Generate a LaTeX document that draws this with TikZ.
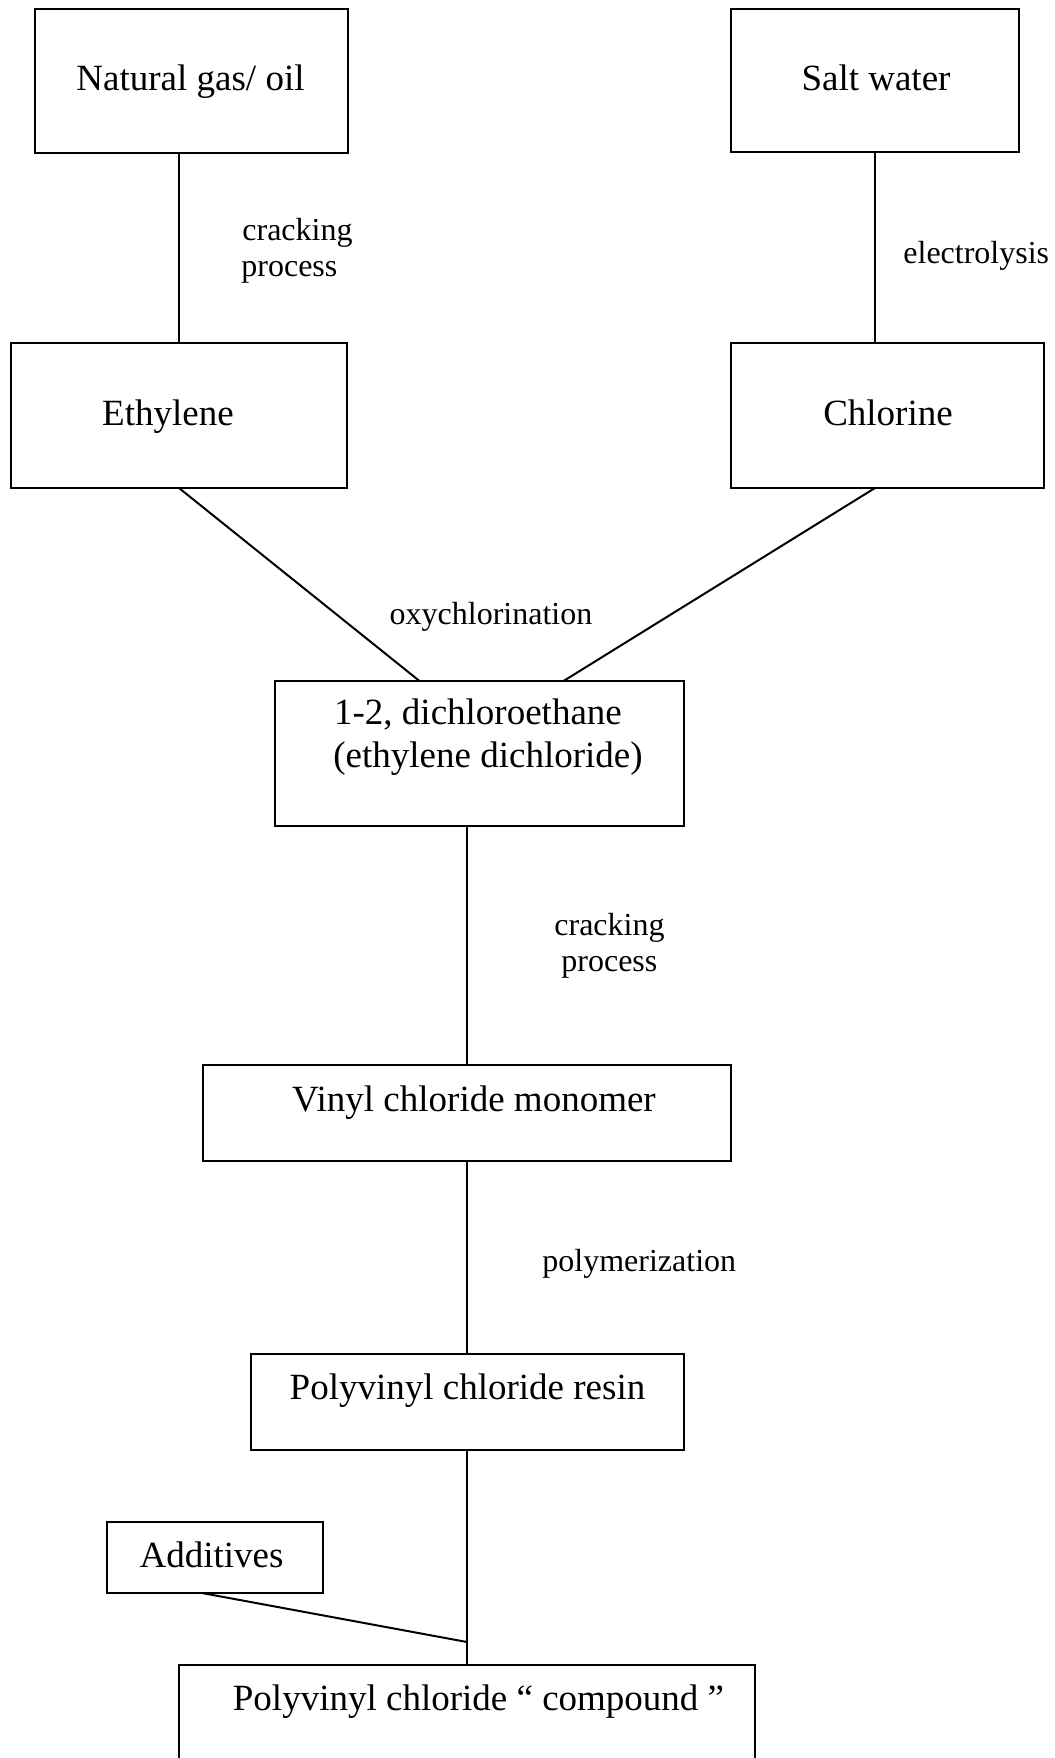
\documentclass[tikz,border=0pt]{standalone}
\usepackage{fontspec}
\setmainfont{Liberation Serif}
\begin{document}
\begin{tikzpicture}[x=0.5pt,y=-0.5pt,
  box/.style={draw,line width=1pt,inner sep=0pt,outer sep=0pt},
  btxt/.style={anchor=base,inner sep=0pt,font=\fontsize{18.5}{21}\selectfont},
  ltxt/.style={anchor=base,inner sep=0pt,font=\fontsize{16}{19}\selectfont},
  conn/.style={line width=1pt}]
\useasboundingbox (0,0) rectangle (1055,1758);
\clip (0,0) rectangle (1055,1758);
% boxes
\node[box,minimum width=156.5pt,minimum height=72pt] (nat) at (191.5,81) {};
\node[box,minimum width=144pt,minimum height=71.5pt] (salt) at (875,80.5) {};
\node[box,minimum width=168pt,minimum height=72.5pt] (eth) at (179,415.5) {};
\node[box,minimum width=156.5pt,minimum height=72.5pt] (chl) at (887.5,415.5) {};
\node[box,minimum width=204.5pt,minimum height=72.5pt] (dcl) at (479.5,753.5) {};
\node[box,minimum width=264pt,minimum height=48pt] (vcm) at (467,1113) {};
\node[box,minimum width=216.5pt,minimum height=48pt] (res) at (467.5,1402) {};
\node[box,minimum width=108pt,minimum height=35.5pt] (add) at (215,1557.5) {};
\node[box,minimum width=288pt,minimum height=67.5pt] (cmp) at (467,1732.5) {};
% box texts
\node[btxt] (tnat) at (190.5,90) {Natural gas/ oil};
\node[btxt] (tsalt) at (876,90) {Salt water};
\node[btxt] (teth) at (168,425) {Ethylene};
\node[btxt] (tchl) at (888,425) {Chlorine};
\node[btxt] (tdcl1) at (478,724) {1-2, dichloroethane};
\node[btxt] (tdcl2) at (488,767) {(ethylene dichloride)};
\node[btxt] (tvcm) at (474,1111) {Vinyl chloride monomer};
\node[btxt] (tres) at (467.5,1399) {Polyvinyl chloride resin};
\node[btxt] (tadd) at (211.5,1567) {Additives};
\node[btxt] (tcmp) at (478.5,1710) {Polyvinyl chloride “ compound ”};
% process labels
\node[ltxt,anchor=base west] (l1a) at (242,240) {cracking};
\node[ltxt,anchor=base west] (l1b) at (241,276) {process};
\node[ltxt,anchor=base west] (l2) at (903,263) {electrolysis};
\node[ltxt] (l3) at (491,624) {oxychlorination};
\node[ltxt,anchor=base west] (l4a) at (554,935) {cracking};
\node[ltxt,anchor=base west] (l4b) at (561,971) {process};
\node[ltxt,anchor=base west] (l5) at (542,1271) {polymerization};
% connectors
\draw[conn] (eth.north) -- (eth.north |- nat.south);
\draw[conn] (salt.south) -- (salt.south |- chl.north);
\draw[conn] (eth.south) -- ([xshift=-30pt]dcl.north);
\draw[conn] (salt.south |- chl.south) -- ([xshift=42pt]dcl.north);
\draw[conn] (vcm.north |- dcl.south) -- (vcm.north);
\draw[conn] (vcm.south) -- (vcm.south |- res.north);
\draw[conn] (cmp.north) -- (cmp.north |- res.south);
\coordinate (j) at ([yshift=11.5pt]cmp.north);
\draw[conn] ([xshift=-6.5pt]add.south) -- (j);
\end{tikzpicture}
\end{document}
